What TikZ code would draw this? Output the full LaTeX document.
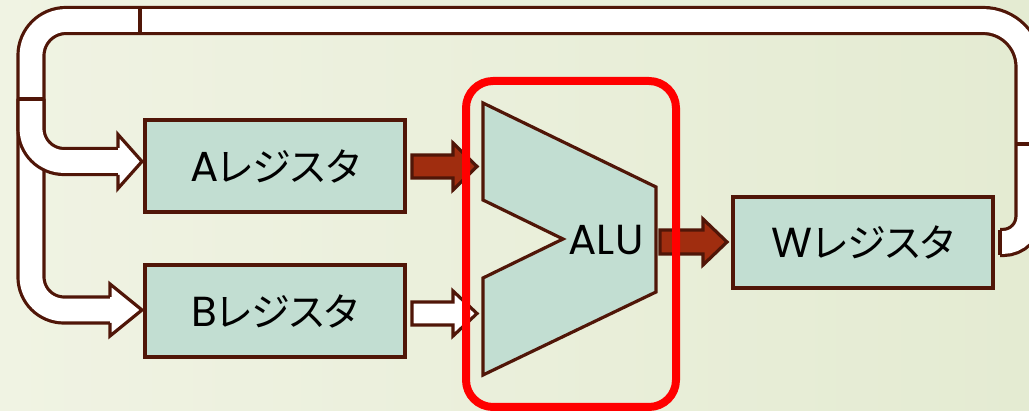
\documentclass[tikz,border=0pt]{standalone}
\usepackage{fontspec}
\setmainfont{Poppins}
\newfontfamily\jp{Noto Sans CJK JP}[RawFeature=+palt]
\usetikzlibrary{calc}
\definecolor{bgL}{RGB}{240,243,227}
\definecolor{bgR}{RGB}{228,235,210}
\definecolor{boxfill}{RGB}{194,222,210}
\definecolor{edge}{RGB}{80,22,8}
\definecolor{darkred}{RGB}{160,45,15}
\definecolor{hilite}{RGB}{255,0,0}
\newcommand\kana[1]{{\jp\fontsize{39}{42}\selectfont #1}}
\newcommand\mypipe[1]{\draw[pipeout] #1; \draw[pipein] #1;}
\begin{document}
\begin{tikzpicture}[x=1pt,y=-1pt,
  regbox/.style={draw=edge, line width=3.2pt, fill=boxfill, minimum width=260pt,
    minimum height=92pt, inner sep=0pt, font=\fontsize{42}{46}\selectfont},
  pipeout/.style={draw=edge, line width=29.2pt},
  pipein/.style={draw=white, line width=22.8pt},
  outline/.style={draw=edge, line width=3.2pt, line join=miter},
  divider/.style={draw=edge, line width=3.2pt, line cap=square},
  whitearrow/.style={outline, fill=white},
  redarrow/.style={outline, fill=darkred}]
\useasboundingbox (0,0) rectangle (1029,411);
\clip (0,0) rectangle (1029,411);
\fill[left color=bgL, right color=bgR] (0,0) rectangle (1029,411);

% feedback loop pipes
\mypipe{(1000,242.5) -- (1003,242.5) arc[start angle=90, end angle=0, radius=26] -- (1029,66.5) arc[start angle=0, end angle=-90, radius=46] -- (140,20.5)}
\mypipe{(140,20.5) -- (66,20.5) arc[start angle=270, end angle=180, radius=35] -- (31,99)}
% to B register
\mypipe{(31,99) -- (31,277) arc[start angle=180, end angle=90, radius=33] -- (111,310)}
\filldraw[whitearrow] (110,297) -- (110,284) -- (142,310) -- (110,336) -- (110,323);
% to A register
\mypipe{(31,99) -- (31,128.5) arc[start angle=180, end angle=90, radius=33] -- (119,161.5)}
\filldraw[whitearrow] (118,148) -- (118,134.5) -- (142,161.5) -- (118,188.5) -- (118,175);
% segment dividers
\draw[divider] (140,8) -- (140,33);
\draw[divider] (18,99) -- (44,99);
\draw[divider] (1016,144) -- (1042,144);
\draw[divider] (1000,230) -- (1000,255);

% registers
\node[regbox] (A) at (275,166) {A\kana{レジスタ}};
\node[regbox] (B) at (275,311) {B\kana{レジスタ}};
\node[regbox, minimum height=91pt] (W) at (863,242.5) {W\kana{レジスタ}};

% ALU
\filldraw[outline, fill=boxfill] (483,103) -- (656,187) -- (656,292) -- (483,375) -- (483,278) -- (563,239) -- (483,200) -- cycle;
\node[font=\fontsize{42}{46}\selectfont, inner sep=0pt] (alu) at (606,240) {ALU};

% data arrows
\filldraw[redarrow] (412,155) -- (453,155) -- (453,143) -- (477,166.5) -- (453,190) -- (453,178) -- (412,178) -- cycle;
\filldraw[whitearrow] (412,302) -- (453,302) -- (453,291) -- (477,313.5) -- (453,336) -- (453,325) -- (412,325) -- cycle;
\filldraw[redarrow] (660,230) -- (703,230) -- (703,219) -- (727,242) -- (703,265) -- (703,254) -- (660,254) -- cycle;

% highlight
\draw[hilite, line width=8pt, rounded corners=27pt] (466,81) rectangle (676,407);
\end{tikzpicture}
\end{document}
